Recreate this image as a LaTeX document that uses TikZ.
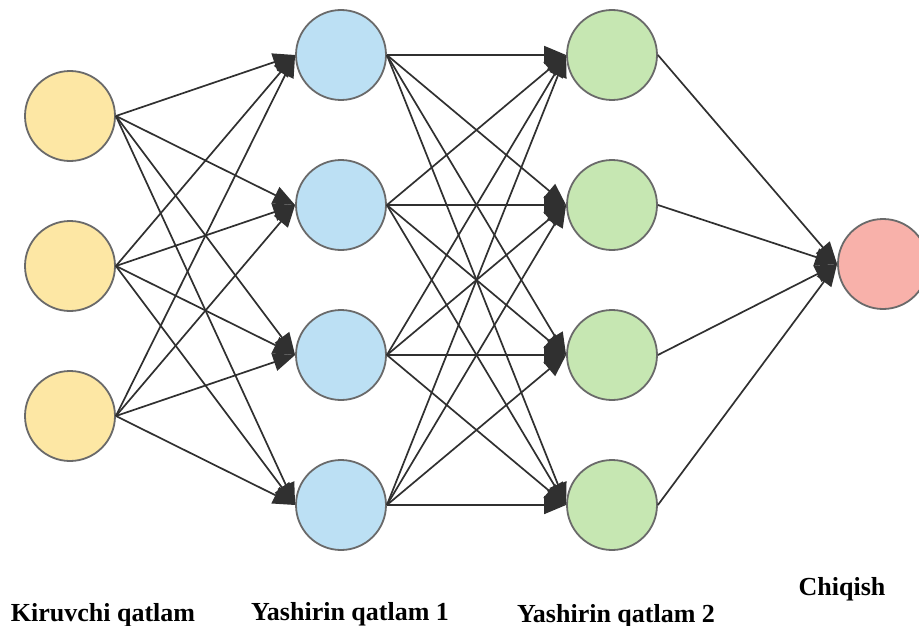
\documentclass[tikz,border=0pt]{standalone}
\usepackage{fontspec}
\setmainfont{Liberation Serif}
\usetikzlibrary{arrows.meta}
\definecolor{inyel}{HTML}{FDE7A4}
\definecolor{hidblue}{HTML}{BCE0F4}
\definecolor{hidgreen}{HTML}{C6E7B2}
\definecolor{outred}{HTML}{F8B1AA}
\definecolor{edgegray}{HTML}{303030}
\definecolor{ringgray}{HTML}{6A6A6A}
\begin{document}
\begin{tikzpicture}[x=1pt,y=1pt,
  neuron/.style={circle,draw=ringgray,line width=1.8pt,minimum size=90pt,inner sep=0pt},
  conn/.style={draw=edgegray,line width=1.7pt,-{Triangle[length=22pt,width=18pt]}},
  lbl/.style={font=\fontsize{26}{30}\selectfont\bfseries,anchor=base,inner sep=0pt}]
\useasboundingbox (0,0) rectangle (919,-626);
\clip (0,0) rectangle (919,-626);
\fill[white] (0,0) rectangle (919,-626);
% nodes
\node[neuron,fill=inyel] (i1) at (70,-116) {};
\node[neuron,fill=inyel] (i2) at (70,-266) {};
\node[neuron,fill=inyel] (i3) at (70,-416) {};
\node[neuron,fill=hidblue] (a1) at (341,-55) {};
\node[neuron,fill=hidblue] (a2) at (341,-205) {};
\node[neuron,fill=hidblue] (a3) at (341,-355) {};
\node[neuron,fill=hidblue] (a4) at (341,-505) {};
\node[neuron,fill=hidgreen] (b1) at (612,-55) {};
\node[neuron,fill=hidgreen] (b2) at (612,-205) {};
\node[neuron,fill=hidgreen] (b3) at (612,-355) {};
\node[neuron,fill=hidgreen] (b4) at (612,-505) {};
\node[neuron,fill=outred] (o1) at (883,-264) {};
% connectors
\foreach \s in {i1,i2,i3}{\foreach \t in {a1,a2,a3,a4}{\draw[conn] (\s.east) -- (\t.west);}}
\foreach \s in {a1,a2,a3,a4}{\foreach \t in {b1,b2,b3,b4}{\draw[conn] (\s.east) -- (\t.west);}}
\foreach \s in {b1,b2,b3,b4}{\draw[conn] (\s.east) -- (o1.west);}
% labels
\node[lbl] (l1) at (103,-621) {Kiruvchi qatlam};
\node[lbl] (l2) at (350,-620) {Yashirin qatlam 1};
\node[lbl] (l3) at (616,-622) {Yashirin qatlam 2};
\node[lbl] (l4) at (842,-595) {Chiqish};
\end{tikzpicture}
\end{document}
